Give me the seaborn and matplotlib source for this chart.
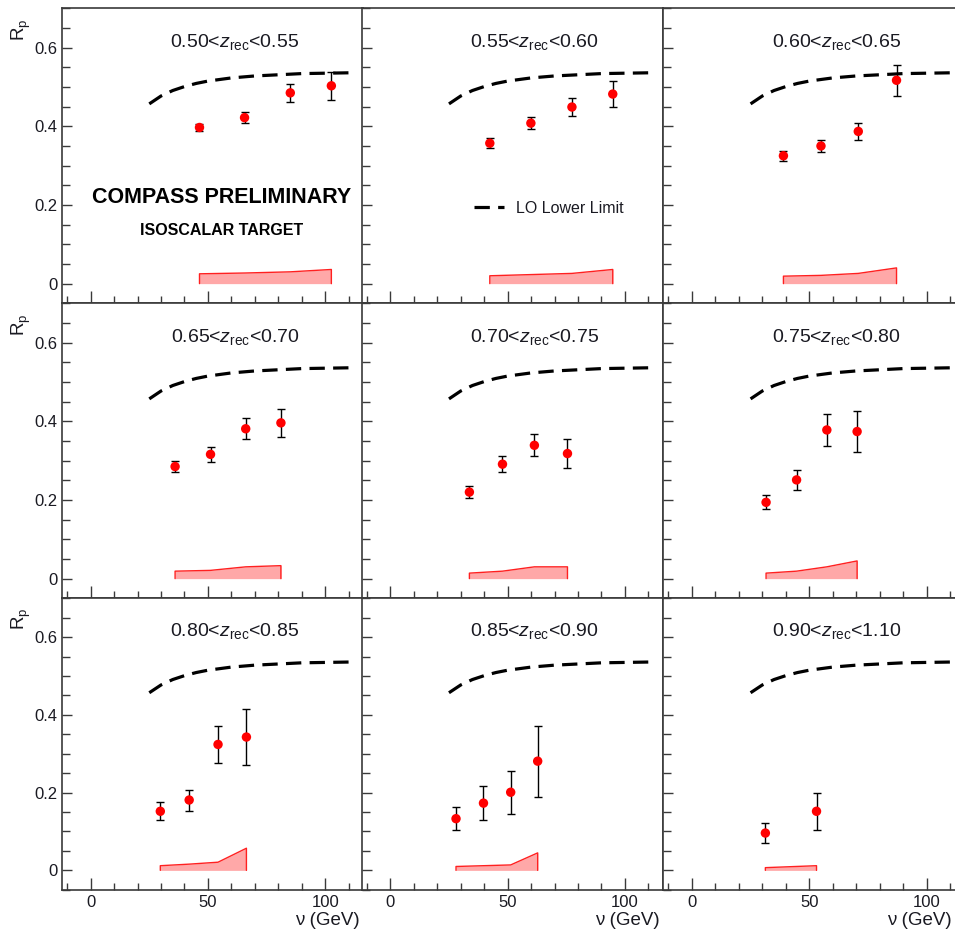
import numpy as np
import pandas as pd
import seaborn as sns
import matplotlib
matplotlib.use("Agg")
import matplotlib.pyplot as plt
from matplotlib.ticker import MultipleLocator

# ---------------- data ----------------
z_bins = [("0.50", "0.55"), ("0.55", "0.60"), ("0.60", "0.65"),
          ("0.65", "0.70"), ("0.70", "0.75"), ("0.75", "0.80"),
          ("0.80", "0.85"), ("0.85", "0.90"), ("0.90", "1.10")]

nu = [[46.4, 65.6, 85.1, 102.6],
      [42.4, 59.9, 77.4, 94.8],
      [39.0, 55.0, 70.9, 87.2],
      [36.0, 51.1, 66.1, 81.1],
      [33.7, 47.8, 61.4, 75.5],
      [31.6, 44.6, 57.5, 70.4],
      [29.7, 42.0, 54.3, 66.4],
      [28.0, 39.7, 51.3, 62.8],
      [31.3, 53.1]]

rp = [[0.397, 0.422, 0.485, 0.503],
      [0.357, 0.408, 0.449, 0.482],
      [0.325, 0.350, 0.387, 0.517],
      [0.285, 0.316, 0.381, 0.396],
      [0.220, 0.291, 0.339, 0.318],
      [0.194, 0.251, 0.378, 0.374],
      [0.152, 0.181, 0.324, 0.343],
      [0.133, 0.173, 0.201, 0.281],
      [0.096, 0.152]]

stat_err = [[0.009, 0.014, 0.022, 0.035],
            [0.013, 0.016, 0.022, 0.034],
            [0.013, 0.016, 0.022, 0.039],
            [0.014, 0.019, 0.027, 0.035],
            [0.016, 0.021, 0.028, 0.038],
            [0.018, 0.025, 0.041, 0.053],
            [0.023, 0.027, 0.048, 0.072],
            [0.029, 0.043, 0.055, 0.091],
            [0.025, 0.047]]

sys_err = [[0.025, 0.027, 0.030, 0.036],
           [0.020, 0.023, 0.026, 0.036],
           [0.019, 0.021, 0.026, 0.040],
           [0.019, 0.021, 0.030, 0.033],
           [0.014, 0.019, 0.030, 0.030],
           [0.014, 0.019, 0.030, 0.045],
           [0.012, 0.016, 0.021, 0.057],
           [0.010, 0.012, 0.014, 0.045],
           [0.007, 0.012]]

lo_nu = [25, 30, 35, 40, 45, 50, 60, 70, 80, 90, 100, 110]
lo_rp = [0.457, 0.477, 0.491, 0.501, 0.509, 0.515, 0.523, 0.528, 0.531, 0.534, 0.535, 0.536]

x_ticks = [0, 50, 100]
y_ticks = [0, 0.2, 0.4, 0.6]
y_tick_labels = ["0", "0.2", "0.4", "0.6"]

# ---------------- style ----------------
sns.set_theme(style="white")
plt.rcParams["font.family"] = ["Liberation Sans", "DejaVu Sans"]
plt.rcParams["mathtext.fontset"] = "custom"
plt.rcParams["mathtext.rm"] = "Liberation Sans"
plt.rcParams["mathtext.it"] = "Liberation Sans:italic"
plt.rcParams["mathtext.bf"] = "Liberation Sans:bold"

W, H = 955, 931
fig = plt.figure(figsize=(W / 100, H / 100), dpi=100)
fig.patch.set_facecolor("white")

col_left = [62, 361.7, 663.3]
col_w = 300.8
row_top = [8.3, 303.3, 598.3]
row_h = [295, 295, 291.5]
xlabel_right = [0.99, 0.99, 0.958]

text_col = "#1a1a22"
frame_col = "#3a3a3a"

for i in range(9):
    r, c = divmod(i, 3)
    l = col_left[c] / W
    b = 1 - (row_top[r] + row_h[r]) / H
    ax = fig.add_axes([l, b, col_w / W, row_h[r] / H])
    ax.set_facecolor("white")

    # systematic band
    x_s = np.array(nu[i])
    y_s = np.array(sys_err[i])
    ax.fill_between(x_s, 0, y_s, color="#ffa8a8", lw=0, zorder=1)
    ax.plot(np.r_[x_s[0], x_s, x_s[-1]], np.r_[0, y_s, 0], color="#ff2020", lw=1.0, zorder=2)

    # LO lower limit
    df_lo = pd.DataFrame({"nu": lo_nu, "rp": lo_rp})
    sns.lineplot(data=df_lo, x="nu", y="rp", ax=ax, color="black", lw=2.3,
                 linestyle=(0, (4.8, 2.6)), label="LO Lower Limit" if i == 1 else None,
                 zorder=3)

    # data points
    ax.errorbar(nu[i], rp[i], yerr=stat_err[i], fmt="none", ecolor="black",
                elinewidth=1.0, capsize=2.8, capthick=1.0, zorder=4)
    df_pt = pd.DataFrame({"nu": nu[i], "rp": rp[i]})
    sns.scatterplot(data=df_pt, x="nu", y="rp", ax=ax, color="#ff0000", s=46,
                    edgecolor="none", linewidth=0, zorder=5)

    ax.set_xlim(-12.2, 116)
    ax.set_ylim(-0.05, 0.70)
    ax.set_xlabel("")
    ax.set_ylabel("")

    ax.set_xticks(x_ticks)
    ax.xaxis.set_minor_locator(MultipleLocator(10))
    ax.set_yticks(y_ticks)
    ax.yaxis.set_minor_locator(MultipleLocator(0.05))
    ax.tick_params(axis="x", which="major", direction="in", length=9, width=1.0,
                   colors=frame_col, labelcolor=text_col, labelsize=12, pad=3.5,
                   bottom=True, top=False)
    ax.tick_params(axis="x", which="minor", direction="in", length=5, width=1.0,
                   colors=frame_col, bottom=True, top=False)
    ax.tick_params(axis="y", which="major", direction="in", length=7, width=1.0,
                   colors=frame_col, labelcolor=text_col, labelsize=12, pad=3,
                   left=True, right=False)
    ax.tick_params(axis="y", which="minor", direction="in", length=6, width=1.0,
                   colors=frame_col, left=True, right=False)
    ax.set_yticklabels(y_tick_labels)

    if r < 2:
        ax.tick_params(axis="x", labelbottom=False)
    if c > 0:
        ax.tick_params(axis="y", labelleft=False)

    for sp in ax.spines.values():
        sp.set_visible(True)
        sp.set_color(frame_col)
        sp.set_linewidth(1.2)

    lo, hi = z_bins[i]
    ax.text(61.5, 0.615, lo + r"<$z_{\mathrm{rec}}$<" + hi, ha="center", va="center",
            fontsize=14, color=text_col, zorder=6)

    if c == 0:
        ax.text(-0.134, 0.967, r"R$_{\mathrm{p}}$", transform=ax.transAxes,
                rotation=90, ha="center", va="top", fontsize=13.5, color=text_col)
    if r == 2:
        ax.set_xlabel("ν (GeV)", loc="right", fontsize=13.5, color=text_col)
        ax.xaxis.set_label_coords(xlabel_right[c], -0.106)
        ax.xaxis.label.set_va("center")

    if i == 0:
        ax.text(55.9, 0.219, "COMPASS PRELIMINARY", ha="center", va="center",
                fontsize=15.5, fontweight="bold", color="black")
        ax.text(55.6, 0.135, "ISOSCALAR TARGET", ha="center", va="center",
                fontsize=11.5, fontweight="bold", color="black")
    if i == 1:
        ax.legend(loc="center left", bbox_to_anchor=(0.373, 0.323), frameon=False,
                  fontsize=11.5, handlelength=1.9, handletextpad=0.75,
                  labelcolor=text_col, borderpad=0, borderaxespad=0)
    elif ax.get_legend() is not None:
        ax.get_legend().remove()

fig.savefig("out.png", dpi=100, facecolor="white")
